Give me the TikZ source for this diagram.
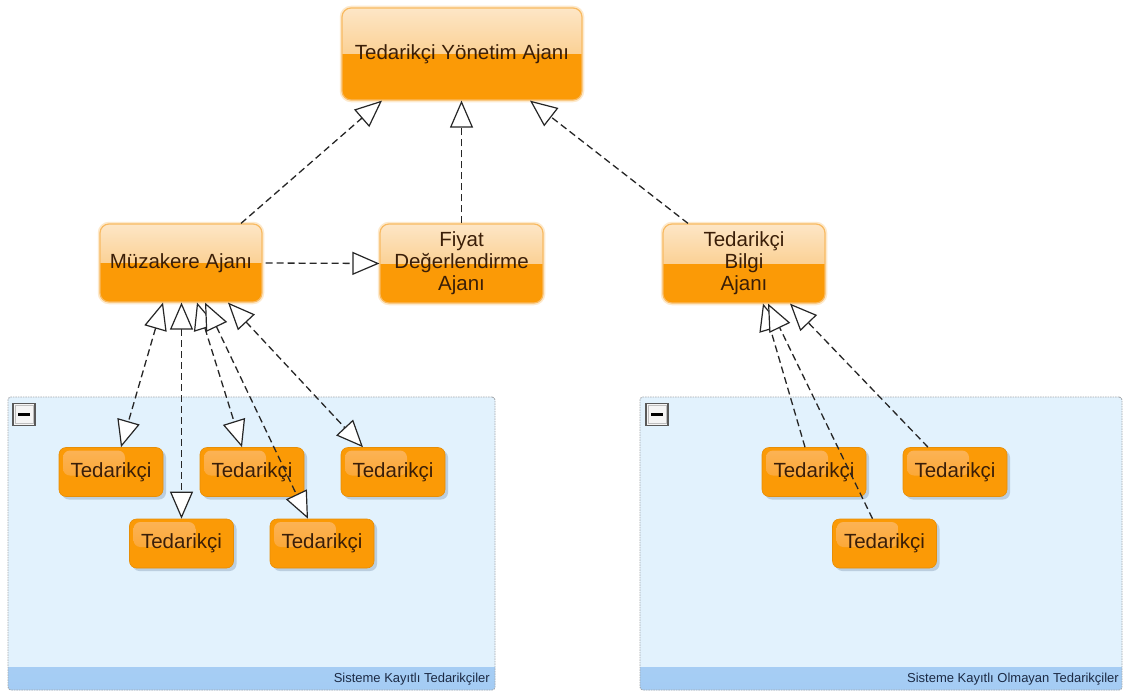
\documentclass[tikz,border=0pt]{standalone}
\usepackage{fontspec}
\setmainfont{Liberation Sans}
\usetikzlibrary{arrows.meta,shadows,calc}

\definecolor{orangeMain}{HTML}{FB9A06}
\definecolor{orangeLight}{HTML}{FDE6C6}
\definecolor{orangeMid}{HTML}{F9BC64}
\definecolor{orangeEdge}{HTML}{F8BA62}
\definecolor{orangeGlow}{HTML}{FDE9CC}
\definecolor{glossTop}{HTML}{FCB458}
\definecolor{glossBottom}{HTML}{FB9F20}
\definecolor{textBrown}{HTML}{3A1E08}
\definecolor{groupFill}{HTML}{E2F2FD}
\definecolor{groupBarTop}{HTML}{BFDDF9}
\definecolor{groupBar}{HTML}{A4CCF4}
\definecolor{groupLine}{HTML}{A4A8AC}
\definecolor{labelText}{HTML}{1C2A44}
\definecolor{shadowBlue}{HTML}{9BB2C8}

\tikzset{
  openhead/.tip={Triangle[length=27pt,width=23pt,fill=white,line width=1.2pt]},
  agent/.style={rectangle, rounded corners=9pt, draw=orangeEdge, line width=1.2pt,
    text=textBrown, font=\fontsize{20.5}{22}\selectfont, align=center, inner sep=0pt,
    preaction={draw=orangeGlow, line width=4.5pt},
    path picture={
      \shade[sharp corners, top color=orangeLight, bottom color=orangeMid]
        (path picture bounding box.north west) rectangle (path picture bounding box.east);
      \fill[sharp corners, orangeMain]
        (path picture bounding box.west) rectangle (path picture bounding box.south east);
    }},
  supplier/.style={rectangle, rounded corners=7pt, fill=orangeMain, draw=orangeMain!92!black,
    line width=0.6pt, minimum width=104pt, minimum height=49pt, inner sep=0pt,
    text=textBrown, font=\fontsize{20.5}{22}\selectfont,
    drop shadow={shadow xshift=3pt, shadow yshift=-3pt, fill=shadowBlue, opacity=0.55},
    path picture={
      \shade[top color=glossTop, bottom color=glossBottom, rounded corners=7pt]
        ([shift={(4pt,-3pt)}]path picture bounding box.north west) rectangle ++(62pt,-25pt);
    }},
  groupbox/.style={rectangle, rounded corners=3pt, fill=groupFill, inner sep=0pt,
    path picture={
      \shade[sharp corners, top color=groupBarTop, bottom color=groupBar]
        ([yshift=23pt]path picture bounding box.south west) rectangle (path picture bounding box.south east);
    },
    postaction={draw=groupLine, line width=0.9pt, dash pattern=on 1.5pt off 1pt}},
  grouplabel/.style={anchor=east, inner sep=0pt, text=labelText, font=\fontsize{13}{15}\selectfont},
  collapse/.style={rectangle, draw=black!65, line width=1.2pt, fill=black!4, minimum size=22pt, inner sep=0pt,
    path picture={
      \draw[black!25, line width=1pt] ([shift={(2pt,-2pt)}]path picture bounding box.north west)
        rectangle ([shift={(-2pt,2pt)}]path picture bounding box.south east);
      \fill[black] ([xshift=-6pt,yshift=-1.6pt]path picture bounding box.center)
        rectangle ([xshift=6pt,yshift=1.6pt]path picture bounding box.center);
    }},
  rel/.style={line width=1.3pt, draw=black!85, dash pattern=on 7pt off 4pt, -openhead},
  relboth/.style={rel, openhead-openhead}
}

\begin{document}
\begin{tikzpicture}[x=1pt,y=-1pt]
\useasboundingbox[fill=white] (0,0) rectangle (1124,693);

% group containers
\node[groupbox, minimum width=487pt, minimum height=293pt] (regGroup) at (251.5,543.5) {};
\node[groupbox, minimum width=482pt, minimum height=293pt] (unregGroup) at (881,543.5) {};
\node[grouplabel] (regLabel) at (490,679) {Sisteme Kayıtlı Tedarikçiler};
\node[grouplabel] (unregLabel) at (1119,679) {Sisteme Kayıtlı Olmayan Tedarikçiler};
\node[collapse] (regToggle) at (24,414.5) {};
\node[collapse] (unregToggle) at (657,414.5) {};

% agents
\node[agent, minimum width=240pt, minimum height=92pt] (top) at (462,54) {Tedarikçi Yönetim Ajanı};
\node[agent, minimum width=162pt, minimum height=78pt] (muz) at (181,263) {Müzakere Ajanı};
\node[agent, minimum width=163pt, minimum height=79pt] (fiyat) at (461.5,263.5) {Fiyat\\Değerlendirme\\Ajanı};
\node[agent, minimum width=162pt, minimum height=79pt] (bilgi) at (744,263.5) {Tedarikçi\\Bilgi\\Ajanı};

% suppliers
\node[supplier] (t1) at (111,472) {Tedarikçi};
\node[supplier] (t2) at (181.5,543.5) {Tedarikçi};
\node[supplier] (t3) at (252,472) {Tedarikçi};
\node[supplier] (t4) at (322,543.5) {Tedarikçi};
\node[supplier] (t5) at (393,472) {Tedarikçi};
\node[supplier] (t6) at (814,472) {Tedarikçi};
\node[supplier] (t7) at (955,472) {Tedarikçi};
\node[supplier] (t8) at (884.5,543.5) {Tedarikçi};

% relations between agents
\draw[rel] ([xshift=60pt]muz.north) -- ([xshift=-80pt]top.south);
\draw[rel] (fiyat.north) -- (fiyat.north |- top.south);
\draw[rel] ([xshift=-56pt]bilgi.north) -- ([xshift=68pt]top.south);
\draw[rel] ([xshift=3pt]muz.east) -- (fiyat.west);

% negotiation agent and registered suppliers
\draw[relboth] ([xshift=-18pt]muz.south) -- ([xshift=10pt]t1.north);
\draw[relboth] ([xshift=0.5pt]muz.south) -- (t2.north);
\draw[relboth] ([xshift=16pt]muz.south) -- ([xshift=-10pt]t3.north);
\draw[relboth] ([xshift=24pt]muz.south) -- ([xshift=-14pt]t4.north);
\draw[relboth] ([xshift=47pt]muz.south) -- ([xshift=-30pt]t5.north);

% information agent and unregistered suppliers
\draw[rel] ([xshift=-9pt]t6.north) -- ([xshift=19pt]bilgi.south);
\draw[rel] ([xshift=-12pt]t8.north) -- ([xshift=24pt]bilgi.south);
\draw[rel] ([xshift=-27pt]t7.north) -- ([xshift=46pt]bilgi.south);
\end{tikzpicture}
\end{document}
